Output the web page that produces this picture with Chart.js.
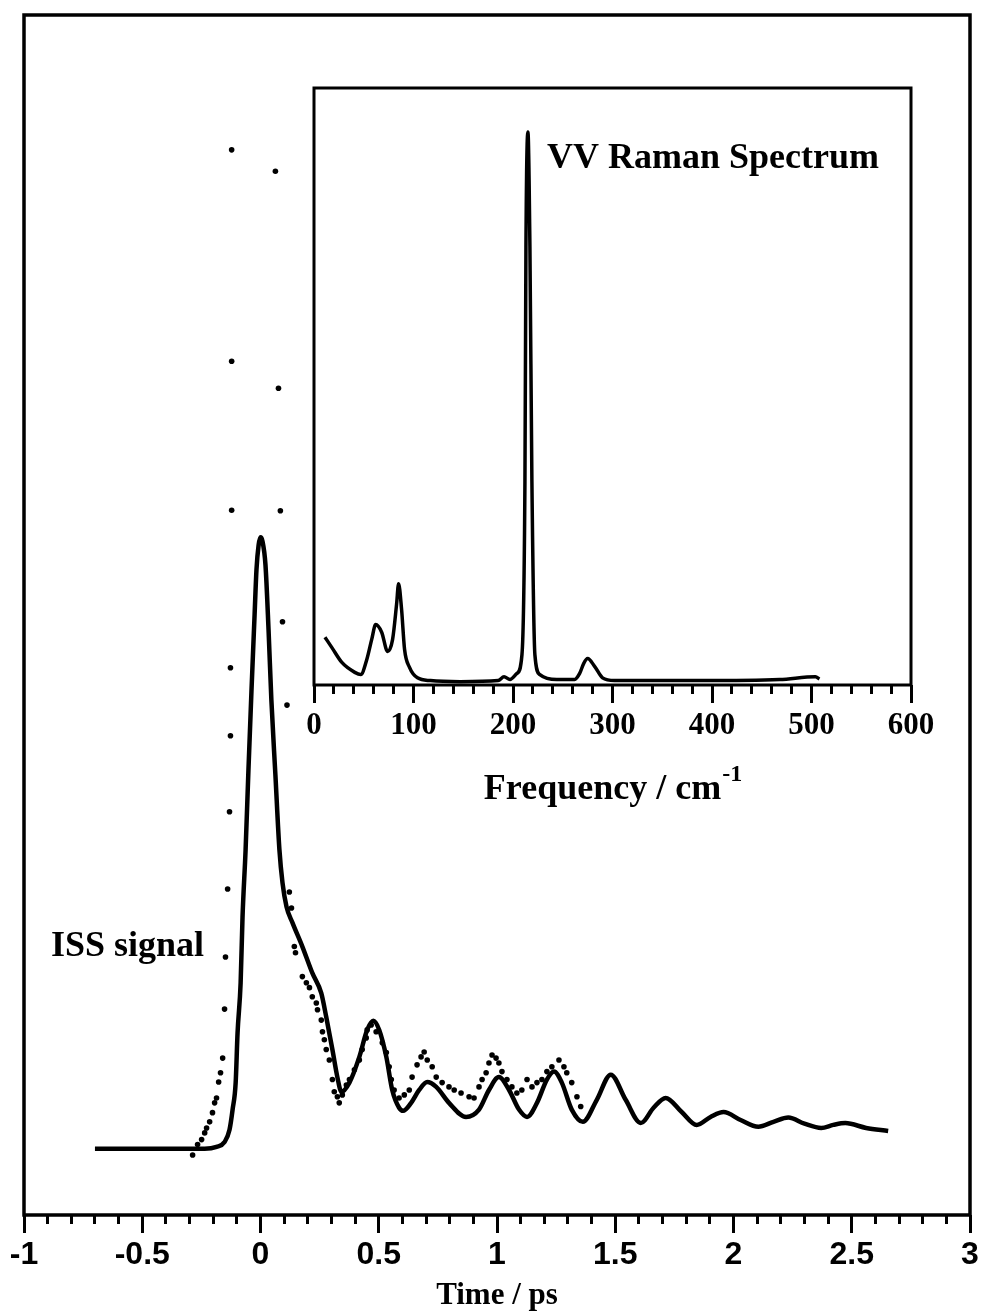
<!DOCTYPE html>
<html lang="en-US">
<head>
  <meta charset="utf-8">
  <title>ISS signal | VV Raman spectrum</title>
  <script src="https://cdn.jsdelivr.net/npm/chart.js@4.4.1/dist/chart.umd.min.js"></script>
  <style>
    html, body { margin: 0; padding: 0; background: #fff; }
    #wrap { position: relative; width: 982px; height: 1316px; }
    #main { position: absolute; left: 0; top: 0; }
    #inset { position: absolute; left: 270px; top: 60px; }
  </style>
</head>
<body>
  <div id="wrap">
    <canvas id="main" width="982" height="1316"></canvas>
    <canvas id="inset" width="680" height="770"></canvas>
  </div>

  <script>

    // main panel: calculated ISS signal (solid line)
    let simTime = [-0.700, -0.468, -0.236, -0.186, -0.152, -0.131, -0.118, -0.105, -0.097, -0.084,
      -0.076, -0.063, -0.051, -0.038, -0.025, -0.017, -0.008, 0.000, 0.008, 0.021,
      0.034, 0.046, 0.063, 0.080, 0.093, 0.110, 0.135, 0.177, 0.219, 0.257,
      0.278, 0.304, 0.325, 0.342, 0.376, 0.418, 0.451, 0.477, 0.502, 0.532,
      0.557, 0.586, 0.603, 0.637, 0.671, 0.705, 0.743, 0.797, 0.869, 0.924,
      0.966, 1.008, 1.051, 1.093, 1.127, 1.169, 1.211, 1.241, 1.274, 1.316,
      1.363, 1.422, 1.481, 1.544, 1.608, 1.662, 1.713, 1.781, 1.844, 1.903,
      1.958, 2.030, 2.105, 2.169, 2.232, 2.300, 2.371, 2.422, 2.473, 2.561,
      2.654];
    let simSignal = [0, 0, 0, 0.003, 0.011, 0.031, 0.064, 0.108, 0.189, 0.271,
      0.378, 0.488, 0.618, 0.749, 0.871, 0.945, 0.985, 0.998, 0.992, 0.953,
      0.847, 0.732, 0.610, 0.488, 0.434, 0.395, 0.369, 0.330, 0.287, 0.254,
      0.215, 0.162, 0.117, 0.093, 0.108, 0.150, 0.194, 0.209, 0.194, 0.150,
      0.096, 0.067, 0.062, 0.075, 0.096, 0.109, 0.101, 0.075, 0.052, 0.064,
      0.096, 0.117, 0.096, 0.064, 0.052, 0.075, 0.113, 0.126, 0.108, 0.064,
      0.044, 0.080, 0.121, 0.080, 0.042, 0.067, 0.083, 0.060, 0.039, 0.052,
      0.060, 0.047, 0.036, 0.044, 0.051, 0.041, 0.034, 0.039, 0.042, 0.034,
      0.029];

    // main panel: measured ISS signal (dots)
    let expTime = [-0.287, -0.266, -0.249, -0.236, -0.228, -0.215, -0.203, -0.194, -0.186, -0.177,
      -0.169, -0.160, -0.152, -0.148, -0.139, -0.131, -0.127, -0.127, -0.122, -0.122,
      -0.122, 0.063, 0.076, 0.084, 0.093, 0.112, 0.122, 0.131, 0.143, 0.148,
      0.177, 0.194, 0.207, 0.219, 0.236, 0.241, 0.257, 0.262, 0.270, 0.278,
      0.291, 0.304, 0.312, 0.325, 0.333, 0.346, 0.363, 0.376, 0.397, 0.418,
      0.430, 0.447, 0.451, 0.468, 0.489, 0.515, 0.532, 0.544, 0.553, 0.565,
      0.586, 0.608, 0.629, 0.641, 0.662, 0.679, 0.692, 0.705, 0.726, 0.743,
      0.768, 0.797, 0.819, 0.848, 0.882, 0.903, 0.924, 0.937, 0.954, 0.966,
      0.979, 0.996, 1.008, 1.021, 1.042, 1.063, 1.084, 1.105, 1.127, 1.148,
      1.169, 1.190, 1.211, 1.232, 1.262, 1.283, 1.295, 1.316, 1.338, 1.354];
    let expSignal = [-0.010, 0.007, 0.015, 0.026, 0.034, 0.044, 0.059, 0.075, 0.083, 0.109,
      0.124, 0.148, 0.228, 0.313, 0.424, 0.550, 0.674, 0.785, 1.042, 1.285,
      1.630, 1.595, 1.241, 1.041, 0.860, 0.724, 0.419, 0.393, 0.330, 0.320,
      0.281, 0.271, 0.263, 0.248, 0.238, 0.227, 0.210, 0.191, 0.178, 0.162,
      0.145, 0.113, 0.093, 0.085, 0.075, 0.088, 0.104, 0.113, 0.129, 0.145,
      0.162, 0.181, 0.194, 0.202, 0.191, 0.173, 0.157, 0.134, 0.113, 0.096,
      0.083, 0.088, 0.096, 0.117, 0.137, 0.150, 0.158, 0.145, 0.134, 0.117,
      0.108, 0.101, 0.096, 0.091, 0.085, 0.083, 0.101, 0.113, 0.124, 0.140,
      0.153, 0.148, 0.140, 0.126, 0.113, 0.101, 0.091, 0.096, 0.113, 0.101,
      0.108, 0.113, 0.126, 0.134, 0.145, 0.134, 0.124, 0.108, 0.085, 0.069];

    let timeTicks = [-1, -0.5, 0, 0.5, 1, 1.5, 2, 2.5, 3];
    let timeTickLabels = ['-1', '-0.5', '0', '0.5', '1', '1.5', '2', '2.5', '3'];

    // inset: VV Raman spectrum
    let ramanFreq = [11, 18, 28, 41, 47, 53, 58, 62, 68, 74,
      79, 83, 85, 88, 91, 96, 104, 117, 147, 185,
      191, 197, 204, 209, 212, 213, 215, 217, 219, 222,
      227, 244, 262, 267, 271, 275, 282, 290, 302, 388,
      468, 504, 508];
    let ramanIntensity = [0.081, 0.062, 0.035, 0.017, 0.013, 0.040, 0.077, 0.104, 0.090, 0.055,
      0.077, 0.141, 0.178, 0.132, 0.059, 0.026, 0.007, 0.002, 0, 0.002,
      0.009, 0.004, 0.015, 0.049, 0.364, 0.791, 1.000, 0.791, 0.364, 0.049,
      0.013, 0.004, 0.004, 0.015, 0.033, 0.042, 0.028, 0.007, 0.002, 0.002,
      0.004, 0.009, 0.005];

    let freqTicks = [0, 100, 200, 300, 400, 500, 600];
    let freqTickLabels = ['0', '100', '200', '300', '400', '500', '600'];

    function zip(xs, ys) {
      return xs.map((x, i) => ({x: x, y: ys[i]}));
    }

    function findTick(list, v) {
      return list.findIndex(t => Math.abs(t - v) < 1e-6);
    }

    // box round the plot area
    let framePlugin = {
      id: 'frame',
      afterDraw(chart, args, opts) {
        let a = chart.chartArea;
        let ctx = chart.ctx;
        ctx.save();
        ctx.strokeStyle = '#000';
        ctx.lineWidth = opts.width || 3;
        ctx.strokeRect(a.left, a.top, a.right - a.left, a.bottom - a.top);
        ctx.restore();
      }
    };

    let mainText = {
      id: 'mainText',
      afterDraw(chart) {
        let ctx = chart.ctx;
        ctx.save();
        ctx.fillStyle = '#000';
        ctx.font = 'bold 36px "Liberation Serif", "Times New Roman", serif';
        ctx.textBaseline = 'alphabetic';
        ctx.fillText('ISS signal', 51, 956);
        ctx.restore();
      }
    };

    new Chart('main', {
      type: 'scatter',
      data: {
        datasets: [
          {
            type: 'line',
            label: 'calc',
            data: zip(simTime, simSignal),
            borderColor: '#000',
            borderWidth: 4.5,
            pointRadius: 0,
            cubicInterpolationMode: 'monotone',
            fill: false
          },
          {
            label: 'exp',
            data: zip(expTime, expSignal),
            showLine: false,
            pointRadius: 2.8,
            backgroundColor: '#000',
            borderWidth: 0
          }
        ]
      },
      options: {
        responsive: false,
        animation: false,
        layout: { padding: { left: 24, right: 12, top: 15, bottom: 0 } },
        plugins: {
          legend: { display: false },
          tooltip: { enabled: false },
          frame: { width: 3.5 }
        },
        scales: {
          x: {
            type: 'linear',
            min: -1,
            max: 3,
            border: { display: false },
            grid: {
              drawOnChartArea: false,
              tickLength: 18,
              tickWidth: 3,
              tickColor: '#000',
              tickBorderDash: (ctx) => (ctx.tick && findTick(timeTicks, ctx.tick.value) >= 0) ? [] : [9, 100]
            },
            ticks: {
              stepSize: 0.1,
              autoSkip: false,
              maxRotation: 0,
              minRotation: 0,
              padding: 3,
              color: '#000',
              font: { family: '"Liberation Sans", Arial, sans-serif', size: 32, weight: 'bold' },
              callback: (v) => {
                let i = findTick(timeTicks, v);
                return i >= 0 ? timeTickLabels[i] : '';
              }
            },
            title: {
              display: true,
              text: 'Time / ps',
              color: '#000',
              font: { family: '"Liberation Serif", "Times New Roman", serif', size: 31, weight: 'bold' },
              padding: { top: 0, bottom: 1 }
            },
            afterFit: (scale) => { scale.height = 101; }
          },
          y: {
            display: false,
            min: -0.108,
            max: 1.85
          }
        }
      },
      plugins: [framePlugin, mainText]
    });

    let insetText = {
      id: 'insetText',
      afterDraw(chart) {
        let ctx = chart.ctx;
        let a = chart.chartArea;
        ctx.save();
        ctx.fillStyle = '#000';
        ctx.textBaseline = 'alphabetic';
        ctx.font = 'bold 36px "Liberation Serif", "Times New Roman", serif';
        ctx.fillText('VV Raman Spectrum', 277, 108);

        // axis title with superscript
        let big = 'bold 36px "Liberation Serif", "Times New Roman", serif';
        let small = 'bold 24px "Liberation Serif", "Times New Roman", serif';
        ctx.font = big;
        let w1 = ctx.measureText('Frequency / cm').width;
        ctx.font = small;
        let w2 = ctx.measureText('-1').width;
        let x0 = (a.left + a.right) / 2 - (w1 + w2) / 2;
        ctx.font = big;
        ctx.fillText('Frequency / cm', x0, 739);
        ctx.font = small;
        ctx.fillText('-1', x0 + w1 + 1, 721);
        ctx.restore();
      }
    };

    new Chart('inset', {
      type: 'scatter',
      data: {
        datasets: [
          {
            type: 'line',
            label: 'VV',
            data: zip(ramanFreq, ramanIntensity),
            borderColor: '#000',
            borderWidth: 3.5,
            pointRadius: 0,
            cubicInterpolationMode: 'monotone',
            fill: false
          }
        ]
      },
      options: {
        responsive: false,
        animation: false,
        layout: { padding: { left: 44, right: 39, top: 28, bottom: 0 } },
        plugins: {
          legend: { display: false },
          tooltip: { enabled: false },
          frame: { width: 3 }
        },
        scales: {
          x: {
            type: 'linear',
            min: 0,
            max: 600,
            border: { display: false },
            grid: {
              drawOnChartArea: false,
              tickLength: 18,
              tickWidth: 3,
              tickColor: '#000',
              tickBorderDash: (ctx) => (ctx.tick && findTick(freqTicks, ctx.tick.value) >= 0) ? [] : [9, 100]
            },
            ticks: {
              stepSize: 20,
              autoSkip: false,
              maxRotation: 0,
              minRotation: 0,
              padding: 4,
              color: '#000',
              font: { family: '"Liberation Serif", "Times New Roman", serif', size: 31, weight: 'bold' },
              callback: (v) => {
                let i = findTick(freqTicks, v);
                return i >= 0 ? freqTickLabels[i] : '';
              }
            },
            afterFit: (scale) => { scale.height = 145; }
          },
          y: {
            display: false,
            min: -0.006,
            max: 1.08
          }
        }
      },
      plugins: [framePlugin, insetText]
    });

  </script>
</body>
</html>
